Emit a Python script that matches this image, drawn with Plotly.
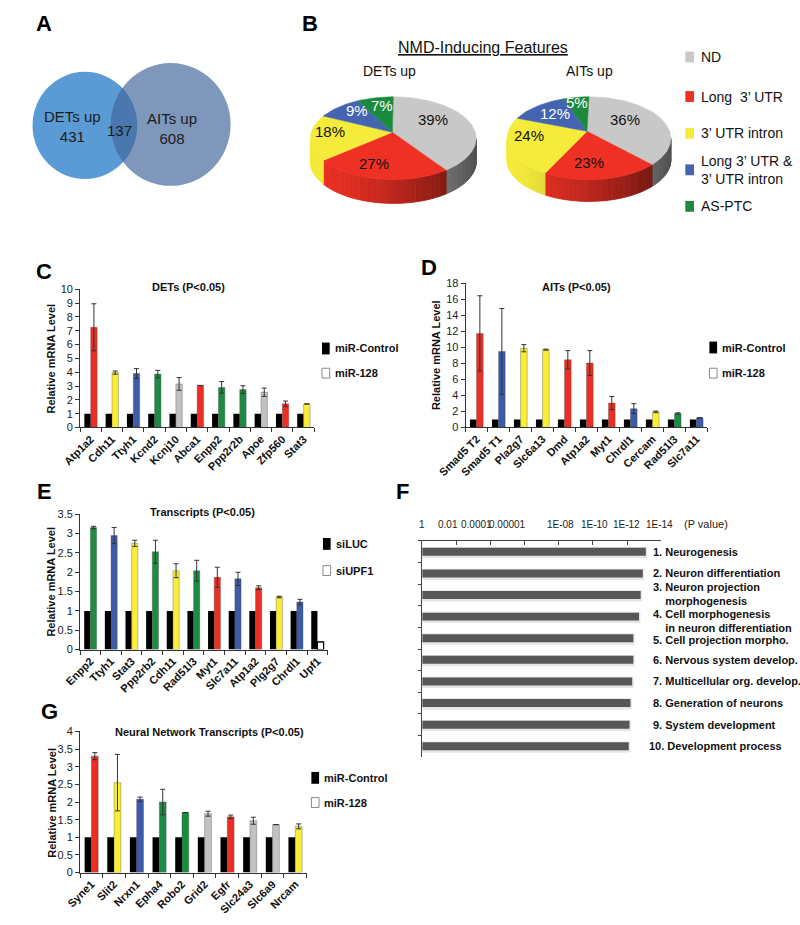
import numpy as np
import plotly.graph_objects as go

W, H = 800, 925
FONT = "Liberation Sans, Arial, sans-serif"

# ---------------- data ----------------
venn_sets = ["DETs up", "AITs up"]
venn_unique = [431, 608]
venn_shared = 137

nmd_features = ["ND", "Long\u00a0 3\u2019 UTR", "3\u2019 UTR intron", "Long 3\u2019 UTR &<br>3\u2019 UTR intron", "AS-PTC"]
pie_titles = ["DETs up", "AITs up"]
pie_dets = [39, 27, 18, 9, 7]
pie_aits = [36, 23, 24, 12, 5]

c_genes = ["Atp1a2", "Cdh11", "Ttyh1", "Kcnd2", "Kcnj10", "Abca1", "Enpp2", "Ppp2r2b", "Apoe", "Zfp560", "Stat3"]
c_control = [1, 1, 1, 1, 1, 1, 1, 1, 1, 1, 1]
c_mir128 = [7.25, 3.97, 3.9, 3.86, 3.15, 3.04, 2.9, 2.74, 2.55, 1.71, 1.7]
c_err = [1.7, 0.12, 0.36, 0.27, 0.46, None, 0.42, 0.28, 0.3, 0.2, None]
c_feature = ["Long", "Intron", "Both", "AS-PTC", "ND", "Long", "AS-PTC", "AS-PTC", "ND", "Long", "Intron"]

d_genes = ["Smad5 T2", "Smad5 T1", "Pla2g7", "Slc6a13", "Dmd", "Atp1a2", "Myt1", "Chrdl1", "Cercam", "Rad51l3", "Slc7a11"]
d_control = [1, 1, 1, 1, 1, 1, 1, 1, 1, 1, 1]
d_mir128 = [11.75, 9.5, 9.9, 9.72, 8.45, 8.05, 3.05, 2.35, 1.95, 1.75, 1.2]
d_err = [4.7, 5.35, 0.45, 0.06, 1.15, 1.55, 0.82, 0.62, 0.1, 0.08, None]
d_feature = ["Long", "Both", "Intron", "Intron", "Long", "Long", "Long", "Both", "Intron", "AS-PTC", "Both"]

e_genes = ["Enpp2", "Ttyh1", "Stat3", "Ppp2rb2", "Cdh11", "Rad51l3", "Myt1", "Slc7a11", "Atp1a2", "Plg2g7", "Chrdl1", "Upf1"]
e_siluc = [1, 1, 1, 1, 1, 1, 1, 1, 1, 1, 1, 1]
e_siupf1 = [3.16, 2.95, 2.75, 2.53, 2.04, 2.04, 1.87, 1.83, 1.6, 1.36, 1.23, 0.2]
e_err = [0.03, 0.21, 0.08, 0.3, 0.18, 0.27, 0.26, 0.17, 0.05, 0.02, 0.07, None]
e_feature = ["AS-PTC", "Both", "Intron", "AS-PTC", "Intron", "AS-PTC", "Long", "Both", "Long", "Intron", "Both", "None"]

go_terms = ["1. Neurogenesis", "2. Neuron differentiation",
            "3. Neuron projection<br>\u00a0\u00a0\u00a0\u00a0morphogenesis",
            "4. Cell morphogenesis<br>\u00a0\u00a0\u00a0\u00a0in neuron differentiation",
            "5. Cell projection morpho.", "6. Nervous system develop.", "7. Multicellular org. develop.",
            "8. Generation of neurons", "9. System development", "10. Development process"]
go_pvalues = [8.0e-14, 1.2e-13, 1.6e-13, 2.0e-13, 4.3e-13, 4.3e-13, 5.0e-13, 6.3e-13, 7.2e-13, 8.0e-13]
p_tick_labels = ["1", "0.01", "0.0001", "0.00001", "1E-08", "1E-10", "1E-12", "1E-14"]

g_genes = ["Syne1", "Slit2", "Nrxn1", "Epha4", "Robo2", "Grid2", "Egfr", "Slc24a3", "Slc6a9", "Nrcam"]
g_control = [1, 1, 1, 1, 1, 1, 1, 1, 1, 1]
g_mir128 = [3.3, 2.55, 2.08, 2.0, 1.7, 1.67, 1.58, 1.47, 1.36, 1.31]
g_err = [0.1, 0.8, 0.06, 0.36, None, 0.07, 0.05, 0.1, None, 0.07]
g_feature = ["Long", "Intron", "Both", "AS-PTC", "AS-PTC", "ND", "Long", "ND", "ND", "Intron"]

# ---------------- styles ----------------
FEATURE_COLORS = {"ND": "#c2c2c2", "Long": "#ec2e24", "Intron": "#f8ee36", "Both": "#3d5ba9",
                  "AS-PTC": "#1d8b43", "None": "#ffffff"}
PIE_COLORS = ["#c8c8c8", "#ee3124", "#f5eb3b", "#4464b2", "#1b8a3e"]
PIE_TEXT_COLORS = ["#111111", "#111111", "#111111", "#ffffff", "#ffffff"]
PIE_GEOM = [dict(cx=378, cy=134, rx=86, ry=42, depth=24, ax=377, ay=128, tx=374),
            dict(cx=581, cy=134, rx=85, ry=42, depth=22, ax=579, ay=127, tx=582)]
PIE_LABEL_POS = [[(419, 115), (358, 160), (312, 127), (340, 106), (366, 101)],
                 [(618, 115), (581, 159), (519, 131), (546, 109), (569, 98)]]
GO_LABEL_SHIFT = [0, 0, 1, -4, -2, 0, 0, 0, 0, 0]
# where the reference typesets the P-value tick labels (axis units)
P_LABEL_X = [0.0, 1.5, 3.2, 5.0, 8.1, 10.1, 11.95, 13.9]

fig = go.Figure()
ann, shp = [], []


def px(x):
    return x / W


def py(y):
    return 1 - y / H


def text(x, y, s, size, bold=False, color="#111111", xanchor="center", angle=0):
    ann.append(dict(xref="paper", yref="paper", x=px(x), y=py(y), text=s, showarrow=False,
                    xanchor=xanchor, yanchor="middle", textangle=angle, align="left",
                    font=dict(family=FONT, size=size, color=color, weight="bold" if bold else "normal")))


def swatch(x0, yc, w, h, fill, line=None):
    shp.append(dict(type="rect", xref="paper", yref="paper", x0=px(x0), x1=px(x0 + w),
                    y0=py(yc + h / 2), y1=py(yc - h / 2), fillcolor=fill,
                    line=dict(color=line if line else fill, width=1 if line else 0)))


def shade(hexc, f):
    h = hexc.lstrip("#")
    r, g, b = (int(h[i:i + 2], 16) for i in (0, 2, 4))
    return "rgb(%d,%d,%d)" % (r * f, g * f, b * f)


# panel letters
for lab, x, y in [("A", 16, 18), ("B", 292, 18), ("C", 16, 269), ("D", 415, 265),
                  ("E", 16, 492), ("F", 388, 492), ("G", 21, 715)]:
    text(x, y, lab, 22, bold=True, color="#000000")

# ---------------- canvas axis (1 unit = 1 px) for Venn + pies ----------------
CANVAS_H = 215
fig.update_layout(
    xaxis=dict(domain=[0, 1], range=[0, W], visible=False, fixedrange=True),
    yaxis=dict(domain=[py(CANVAS_H), 1], range=[CANVAS_H, 0], visible=False, fixedrange=True),
)

# Venn (radii proportional to sqrt of set totals)
k = 2.28
rL = k * np.sqrt(venn_unique[0] + venn_shared)
rR = k * np.sqrt(venn_unique[1] + venn_shared)
cL, cR = (58, 121), (147, 120)
shp.append(dict(type="circle", xref="x", yref="y", x0=cL[0] - rL, x1=cL[0] + rL, y0=cL[1] - rL, y1=cL[1] + rL,
                fillcolor="#5b9bd5", line=dict(width=0), layer="below"))
shp.append(dict(type="circle", xref="x", yref="y", x0=cR[0] - rR, x1=cR[0] + rR, y0=cR[1] - rR, y1=cR[1] + rR,
                fillcolor="rgba(68,101,156,0.68)", line=dict(width=0), layer="below"))
ann.append(dict(xref="paper", yref="paper", x=px(45), y=py(122.5),
                text="%s<br>%d" % (venn_sets[0], venn_unique[0]), showarrow=False,
                xanchor="center", yanchor="middle", align="center",
                font=dict(family=FONT, size=15, color="#1a1a1a")))
text(94, 126, "%d" % venn_shared, 15, color="#1a1a1a")
ann.append(dict(xref="paper", yref="paper", x=px(148), y=py(124.5),
                text="%s<br>%d" % (venn_sets[1], venn_unique[1]), showarrow=False,
                xanchor="center", yanchor="middle", align="center",
                font=dict(family=FONT, size=15, color="#1a1a1a")))


def ell(p, t):
    r = np.radians(t)
    return p["cx"] + p["rx"] * np.sin(r), p["cy"] - p["ry"] * np.cos(r)


for p, vals, title, lpos in zip(PIE_GEOM, [pie_dets, pie_aits], pie_titles, PIE_LABEL_POS):
    bounds = np.concatenate([[0], np.cumsum(vals)]) / float(sum(vals)) * 360.0
    # side walls (front half only), shaded strips
    for i in range(len(vals)):
        a0, a1 = max(bounds[i], 90.0), min(bounds[i + 1], 270.0)
        if a1 <= a0:
            continue
        n = max(1, int(np.ceil((a1 - a0) / 2.0)))
        edges = np.linspace(a0, a1, n + 1)
        for s0, s1 in zip(edges[:-1], edges[1:]):
            ts = np.linspace(s0, s1, 4)
            xt, yt = ell(p, ts)
            xs = list(xt) + list(xt[::-1]) + [xt[0]]
            ys = list(yt) + list((yt + p["depth"])[::-1]) + [yt[0]]
            f = 1 - 0.6 * ((np.sin(np.radians((s0 + s1) / 2)) + 1) / 2) ** 1.5
            col = shade(PIE_COLORS[i], f)
            fig.add_trace(go.Scatter(x=xs, y=ys, fill="toself", fillcolor=col, mode="lines",
                                     line=dict(color=col, width=0.8), hoverinfo="skip",
                                     showlegend=False, xaxis="x", yaxis="y"))
    # top faces
    for i in range(len(vals)):
        ts = np.linspace(bounds[i], bounds[i + 1], max(3, int((bounds[i + 1] - bounds[i]) / 1.5)))
        xt, yt = ell(p, ts)
        xs = [p["ax"]] + list(xt) + [p["ax"]]
        ys = [p["ay"]] + list(yt) + [p["ay"]]
        fig.add_trace(go.Scatter(x=xs, y=ys, fill="toself", fillcolor=PIE_COLORS[i], mode="lines",
                                 line=dict(color=PIE_COLORS[i], width=0.5), hoverinfo="skip",
                                 showlegend=False, xaxis="x", yaxis="y"))
    for i, v in enumerate(vals):
        text(lpos[i][0], lpos[i][1], "%d%%" % v, 15, color=PIE_TEXT_COLORS[i])
    text(p["tx"], 66, title, 14, color="#111111")

text(471, 42, "<u>NMD-Inducing Features</u>", 16, color="#111111")

# pie legend
for yc, name, col in zip([51.7, 91.7, 129, 166, 203], nmd_features, PIE_COLORS):
    swatch(681, yc, 9, 11, col)
    text(695, yc, name, 14, xanchor="left", color="#111111")


# ---------------- bar panels ----------------
def bar_panel(k, genes, ctrl, vals, errs, feats, xr, yr, yrange, dtick, title, title_xy, ytitle_xy,
              leg_x, leg_y, leg_names):
    xa, ya = "x%d" % k, "y%d" % k
    fills = [FEATURE_COLORS[f] for f in feats]
    lines = ["#000000" if f == "None" else "rgba(60,60,60,0.55)" for f in feats]
    lw = [1.2 if f == "None" else 0.6 for f in feats]
    fig.add_trace(go.Bar(x=genes, y=ctrl, marker=dict(color="#000000", line=dict(width=0)),
                         name=leg_names[0], xaxis=xa, yaxis=ya, showlegend=False, hoverinfo="skip"))
    fig.add_trace(go.Bar(x=genes, y=vals, marker=dict(color=fills, line=dict(color=lines, width=lw)),
                         error_y=dict(type="data", array=errs, visible=True, color="#333333",
                                      thickness=1, width=2.5),
                         name=leg_names[1], xaxis=xa, yaxis=ya, showlegend=False, hoverinfo="skip"))
    fig.layout["xaxis%d" % k] = dict(
        domain=[px(xr[0]), px(xr[1])], anchor=ya, type="category", range=[-0.5, len(genes) - 0.5],
        showline=True, linecolor="#333333", linewidth=1, ticks="outside", tickson="boundaries",
        ticklen=4, tickcolor="#333333", tickangle=-45, showgrid=False, zeroline=False,
        tickfont=dict(family=FONT, size=11, color="#111111", weight="bold"), fixedrange=True)
    fig.layout["yaxis%d" % k] = dict(
        domain=[py(yr[1]), py(yr[0])], anchor=xa, range=yrange, dtick=dtick, tick0=0,
        showline=True, linecolor="#333333", linewidth=1, ticks="outside", ticklen=4,
        tickcolor="#333333", showgrid=False, zeroline=False,
        tickfont=dict(family=FONT, size=11, color="#222222"), fixedrange=True)
    text(title_xy[0], title_xy[1], title, 11, bold=True, color="#111111")
    text(ytitle_xy[0], ytitle_xy[1], "Relative mRNA Level", 11, bold=True, color="#111111", angle=-90)
    swatch(leg_x, leg_y[0], 8, 12, "#000000")
    swatch(leg_x, leg_y[1], 8, 10, "#ffffff", "#888888")
    text(leg_x + 11, leg_y[0], leg_names[0], 11, bold=True, xanchor="left", color="#111111")
    text(leg_x + 11, leg_y[1], leg_names[1], 11, bold=True, xanchor="left", color="#111111")


bar_panel(2, c_genes, c_control, c_mir128, c_err, c_feature, (53, 296), (287, 427), [0, 10], 1,
          "DETs (P<0.05)", (165, 285), (23, 357), 304, (347, 372), ["miR-Control", "miR-128"])
bar_panel(3, d_genes, d_control, d_mir128, d_err, d_feature, (453, 704), (281, 427), [0, 18], 2,
          "AITs (P<0.05)", (568, 285), (423, 354), 706, (346, 372), ["miR-Control", "miR-128"])
bar_panel(4, e_genes, e_siluc, e_siupf1, e_err, e_feature, (53, 310), (515, 652), [0, 3.5], 0.5,
          "Transcripts (P<0.05)", (180, 513), (23, 583), 305, (545, 572), ["siLUC", "siUPF1"])
bar_panel(6, g_genes, g_control, g_mir128, g_err, g_feature, (53, 288), (735, 878), [0, 4], 0.5,
          "Neural Network Transcripts (P<0.05)", (187.5, 736), (23, 807), 293, (782, 807),
          ["miR-Control", "miR-128"])

# ---------------- panel F: GO enrichment ----------------
neglog = [-np.log10(p) for p in go_pvalues]
fig.add_trace(go.Bar(x=[v + 0.08 for v in neglog], y=go_terms, orientation="h", width=0.52, offset=-0.22,
                     marker=dict(color="rgba(0,0,0,0.10)", line=dict(width=0)),
                     xaxis="x5", yaxis="y5", showlegend=False, hoverinfo="skip"))
fig.add_trace(go.Bar(x=neglog, y=go_terms, orientation="h", width=0.37, offset=-0.185,
                     marker=dict(color="#575757", line=dict(width=0)),
                     xaxis="x5", yaxis="y5", showlegend=False, hoverinfo="skip"))
fig.layout["xaxis5"] = dict(
    domain=[px(408), px(656)], anchor="y5", side="top", range=[0, 14],
    tickvals=[0, 2, 4, 6, 8, 10, 12, 14], showticklabels=False, ticks="inside", ticklen=4,
    tickcolor="#444444", showline=True, linecolor="#444444", linewidth=1,
    showgrid=False, zeroline=False, fixedrange=True)
fig.layout["yaxis5"] = dict(
    domain=[py(761), py(542)], anchor="x5", type="category", range=[len(go_terms) - 0.5, -0.5],
    showline=True, linecolor="#444444", linewidth=1, ticks="outside", tickson="boundaries", ticklen=3,
    tickcolor="#444444", showticklabels=False, showgrid=False, zeroline=False, fixedrange=True)
for xv, lab in zip(P_LABEL_X, p_tick_labels):
    ann.append(dict(xref="x5", yref="paper", x=xv, y=py(525), text=lab, showarrow=False,
                    xanchor="center", yanchor="middle",
                    font=dict(family=FONT, size=10, color="#222222")))
for i, term in enumerate(go_terms):
    ann.append(dict(xref="paper", yref="y5", x=px(641 if term.startswith("10") else 645), y=term,
                    yshift=GO_LABEL_SHIFT[i],
                    text=term, showarrow=False, xanchor="left", yanchor="middle", align="left",
                    font=dict(family=FONT, size=11, color="#111111", weight="bold")))
text(702, 525, "(P value)", 11, color="#222222")

fig.update_layout(
    width=W, height=H, margin=dict(l=0, r=0, t=0, b=0),
    paper_bgcolor="#ffffff", plot_bgcolor="rgba(0,0,0,0)",
    barmode="group", bargap=0.4, bargroupgap=0.0, showlegend=False,
    font=dict(family=FONT, color="#111111"),
    annotations=ann, shapes=shp,
)
fig.write_html("out.html", config={"displayModeBar": False},
               post_script="document.body.style.margin='0px';"
                           "document.documentElement.style.overflow='hidden';"
                           "document.body.style.overflow='hidden';")
